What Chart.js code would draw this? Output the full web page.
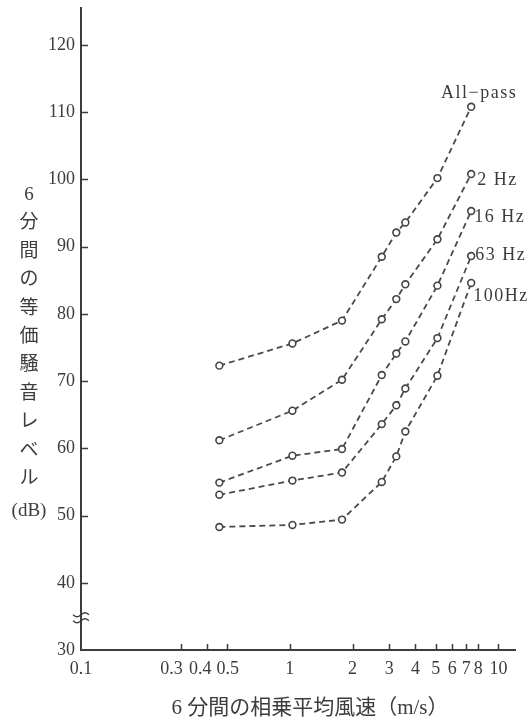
<!DOCTYPE html>
<html>
<head>
<meta charset="utf-8">
<script src="https://cdn.jsdelivr.net/npm/chart.js@4.4.1/dist/chart.umd.min.js"></script>
<style>
  html, body { margin: 0; padding: 0; background: #ffffff; }
  #wrap { width: 529px; height: 724px; }
</style>
</head>
<body>
<div id="wrap"><canvas id="c" width="529" height="724"></canvas></div>
<script>
// 6-minute geometric-mean wind speed (m/s) at each measurement
const windSpeed = [0.46, 1.03, 1.78, 2.76, 3.24, 3.58, 5.1, 7.4];

// 6-minute equivalent noise level (dB) for each filter band
const allPass = [72.3, 75.6, 79.0, 88.5, 92.1, 93.6, 100.2, 110.8];
const band2Hz = [61.2, 65.6, 70.2, 79.2, 82.2, 84.4, 91.1, 100.8];
const band16Hz = [54.9, 58.9, 59.9, 70.9, 74.1, 75.9, 84.2, 95.3];
const band63Hz = [53.1, 55.2, 56.4, 63.6, 66.4, 68.9, 76.4, 88.6];
const band100Hz = [48.3, 48.6, 49.4, 55.0, 58.8, 62.5, 70.8, 84.6];

const seriesNames = ['All\u2212pass', '2 Hz', '16 Hz', '63 Hz', '100Hz'];
const seriesValues = [allPass, band2Hz, band16Hz, band63Hz, band100Hz];

const xTickValues = [0.1, 0.3, 0.4, 0.5, 1, 2, 3, 4, 5, 6, 7, 8, 10];
const yTickValues = [30, 40, 50, 60, 70, 80, 90, 100, 110, 120];

const yTitleParts = ['6', '分', '間', 'の', '等', '価', '騒', '音', 'レ', 'ベ', 'ル', '(dB)'];
const xTitle = '6 分間の相乗平均風速（m/s）';

// ---- styling ----
const INK = '#3c3c3c';
const LINE = '#4a4a4a';
const FONT = "'Liberation Serif', 'Noto Sans CJK JP', serif";
// name label placement relative to each series' last point: [dx, dy, align]
const nameOffsets = [[8, -14, 'center'], [6, 6, 'left'], [3, 6, 'left'], [4, -1, 'left'], [2, 13, 'left']];
// spacing so the crowded small-value labels stay apart
const xLabelSpacing = { 0.3: ['', '\u2002\u2002'], 0.4: ['', '\u2002\u2009'], 0.5: ['\u200A', ''] };

const datasets = seriesValues.map((vals, i) => ({
  label: seriesNames[i],
  data: windSpeed.map((w, j) => ({ x: w, y: vals[j] })),
  borderColor: LINE,
  borderWidth: 1.8,
  borderDash: [6, 4],
  pointRadius: 3.4,
  pointBorderWidth: 1.6,
  pointBorderColor: '#444444',
  pointBackgroundColor: '#ffffff',
  tension: 0,
  fill: false
}));

const decor = {
  id: 'decor',
  afterDatasetsDraw(chart) {
    const { ctx } = chart;
    ctx.save();
    ctx.fillStyle = INK;
    ctx.font = '18px ' + FONT;
    ctx.textBaseline = 'middle';
    if ('letterSpacing' in ctx) ctx.letterSpacing = '1.5px';
    seriesNames.forEach((name, i) => {
      const pts = chart.getDatasetMeta(i).data;
      const p = pts[pts.length - 1];
      const [dx, dy, align] = nameOffsets[i];
      ctx.textAlign = align;
      ctx.fillText(name, p.x + dx, p.y + dy);
    });
    ctx.restore();
  },
  afterDraw(chart) {
    const { ctx, scales: { x, y }, chartArea: a } = chart;
    ctx.save();
    // inward tick marks
    ctx.strokeStyle = INK;
    ctx.lineWidth = 1.5;
    ctx.beginPath();
    xTickValues.slice(1).forEach(v => {
      const px = Math.round(x.getPixelForValue(v)) + 0.5;
      ctx.moveTo(px, a.bottom);
      ctx.lineTo(px, a.bottom - 6);
    });
    yTickValues.slice(1).forEach(v => {
      const py = Math.round(y.getPixelForValue(v)) + 0.5;
      ctx.moveTo(a.left, py);
      ctx.lineTo(a.left + 7, py);
    });
    ctx.stroke();

    // axis break mark between 30 and 40
    const by = y.getPixelForValue(34.8);
    ctx.lineWidth = 1.4;
    [-3, 3].forEach(off => {
      ctx.beginPath();
      for (let t = 0; t <= 16; t++) {
        const px = a.left - 8 + t;
        const py = by + off + Math.sin(t / 16 * Math.PI * 2) * 2;
        if (t === 0) ctx.moveTo(px, py); else ctx.lineTo(px, py);
      }
      ctx.stroke();
    });

    // vertical y-axis title
    ctx.fillStyle = INK;
    ctx.textAlign = 'center';
    ctx.textBaseline = 'middle';
    ctx.font = '19px ' + FONT;
    yTitleParts.forEach((s, i) => {
      ctx.fillText(s, 29, 195 + i * 28.4 + (i === yTitleParts.length - 1 ? 4 : 0));
    });

    // x-axis title
    ctx.font = '21px ' + FONT;
    ctx.fillText(xTitle, 310, 708);
    ctx.restore();
  }
};

new Chart(document.getElementById('c'), {
  type: 'line',
  data: { datasets },
  options: {
    responsive: false,
    animation: false,
    layout: { padding: { top: 8, right: 14, bottom: 0, left: 0 } },
    plugins: { legend: { display: false }, tooltip: { enabled: false } },
    scales: {
      x: {
        type: 'logarithmic',
        min: 0.1,
        max: 12,
        afterBuildTicks: s => { s.ticks = xTickValues.map(v => ({ value: v })); },
        afterFit: s => { s.height = 74; s.paddingLeft = 0; s.paddingRight = 0; },
        border: { display: true, color: INK, width: 2 },
        grid: { display: true, drawOnChartArea: false, drawTicks: false },
        ticks: {
          autoSkip: false, maxRotation: 0, minRotation: 0,
          padding: 8, color: INK,
          font: { family: FONT, size: 18 },
          callback: v => {
            const sp = xLabelSpacing[v];
            return sp ? sp[0] + String(v) + sp[1] : String(v);
          }
        }
      },
      y: {
        type: 'linear',
        min: 30,
        max: 125.5,
        afterBuildTicks: s => { s.ticks = yTickValues.map(v => ({ value: v })); },
        afterFit: s => { s.width = 81; s.paddingTop = 0; s.paddingBottom = 0; },
        border: { display: true, color: INK, width: 2 },
        grid: { display: true, drawOnChartArea: false, drawTicks: false },
        ticks: {
          padding: 6, color: INK,
          font: { family: FONT, size: 18 },
          callback: v => String(v)
        }
      }
    }
  },
  plugins: [decor]
});
</script>
</body>
</html>
